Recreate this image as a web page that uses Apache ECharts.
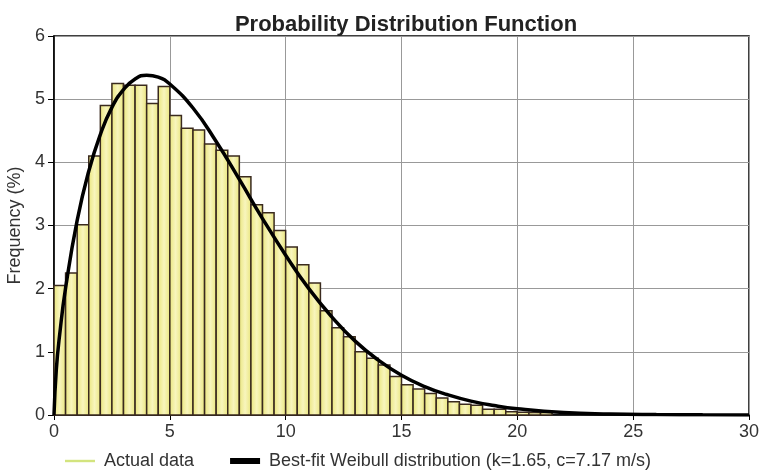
<!DOCTYPE html>
<html>
<head>
<meta charset="utf-8">
<script src="https://cdn.jsdelivr.net/npm/echarts@6/dist/echarts.min.js"></script>
<style>
  html, body { margin: 0; padding: 0; background: #fff; }
  #chart { width: 759px; height: 472px; }
</style>
</head>
<body>
<div id="chart"></div>
<script>
// histogram: bins of 0.5 m/s starting at 0
const binWidth = 0.5;
const freq = [
  2.05, 2.25, 3.01, 4.10, 4.90, 5.25, 5.22, 5.22, 4.93, 5.20,
  4.74, 4.54, 4.51, 4.29, 4.19, 4.10, 3.77, 3.33, 3.20, 2.92,
  2.66, 2.38, 2.09, 1.65, 1.38, 1.24, 1.00, 0.90, 0.79, 0.61,
  0.48, 0.41, 0.34, 0.27, 0.21, 0.17, 0.155, 0.09, 0.09, 0.05,
  0.045, 0.04, 0.04
];

// best-fit curve
const fitX = [0, 0.1, 0.25, 0.5, 1, 1.5, 2, 2.5, 3, 3.5, 4, 4.5, 5, 6, 7, 8, 9, 10,
  11, 12, 13, 14, 15, 16, 17, 18, 19, 20, 22, 24, 26, 28, 30];
const fitY = [0, 0.72, 1.29, 2.01, 3.08, 3.86, 4.44, 4.87, 5.15, 5.32, 5.38, 5.35, 5.24,
  4.86, 4.33, 3.73, 3.11, 2.53, 2.00, 1.55, 1.17, 0.87, 0.63, 0.45, 0.32, 0.22, 0.15,
  0.10, 0.04, 0.016, 0.006, 0.002, 0.001];

const xTicks = [0, 30, 5];
const yTicks = [0, 6, 1];

const barData = freq.map((v, i) => [i * binWidth, (i + 1) * binWidth, v]);
const lineData = fitX.map((x, i) => [x, fitY[i]]);

const chart = echarts.init(document.getElementById('chart'));

const font = 'Liberation Sans, Arial, sans-serif';
const barFill = new echarts.graphic.LinearGradient(0, 0, 1, 0, [
  { offset: 0, color: '#e9e57a' },
  { offset: 0.5, color: '#f8f5bd' },
  { offset: 1, color: '#e9e57a' }
]);

const option = {
  backgroundColor: '#fff',
  animation: false,
  textStyle: { fontFamily: font },
  title: {
    text: 'Probability Distribution Function',
    left: 401,
    textAlign: 'center',
    top: 9,
    textStyle: { fontSize: 22, fontWeight: 'bold', color: '#222', fontFamily: font }
  },
  legend: {
    left: 60,
    top: 447,
    itemWidth: 30,
    itemHeight: 14,
    itemGap: 36,
    textStyle: { fontSize: 18, color: '#333', padding: [0, 0, 0, 4] },
    data: [
      { name: 'Actual data', icon: 'path://M0,0H30V2.4H0Z', itemStyle: { color: '#d3e47e' } },
      { name: 'Best-fit Weibull distribution (k=1.65, c=7.17 m/s)', icon: 'path://M0,0H30V6H0Z', itemStyle: { color: '#000' } }
    ]
  },
  grid: {
    left: 54, right: 10, top: 36, bottom: 57,
    outerBoundsMode: 'none',
    show: true, borderColor: '#000', borderWidth: 1.5, backgroundColor: '#fff'
  },
  xAxis: {
    type: 'value',
    min: xTicks[0], max: xTicks[1], interval: xTicks[2],
    axisLine: { show: true, lineStyle: { color: '#000', width: 1.5 } },
    axisTick: { show: true, length: 5, lineStyle: { color: '#000' } },
    axisLabel: { fontSize: 18, color: '#333', margin: 8 },
    splitLine: { show: true, lineStyle: { color: '#999', width: 1 } }
  },
  yAxis: {
    type: 'value',
    min: yTicks[0], max: yTicks[1], interval: yTicks[2],
    name: 'Frequency (%)',
    nameLocation: 'middle',
    nameGap: 24,
    nameTextStyle: { fontSize: 18, color: '#333' },
    axisLine: { show: true, lineStyle: { color: '#000', width: 1.5 } },
    axisTick: { show: true, length: 6, lineStyle: { color: '#000' } },
    axisLabel: { fontSize: 18, color: '#333', margin: 9 },
    splitLine: { show: true, lineStyle: { color: '#999', width: 1 } }
  },
  series: [
    {
      name: 'Actual data',
      type: 'custom',
      data: barData,
      encode: { x: [0, 1], y: 2 },
      z: 2,
      renderItem: function (params, api) {
        const top = api.coord([api.value(0), api.value(2)]);
        const base = api.coord([api.value(1), 0]);
        return {
          type: 'rect',
          shape: { x: top[0], y: top[1], width: base[0] - top[0], height: base[1] - top[1] },
          style: { fill: barFill, stroke: '#3a2a1e', lineWidth: 1.5 }
        };
      }
    },
    {
      name: 'Best-fit Weibull distribution (k=1.65, c=7.17 m/s)',
      type: 'line',
      data: lineData,
      smooth: true,
      showSymbol: false,
      z: 3,
      lineStyle: { color: '#000', width: 3.5 },
      itemStyle: { color: '#000' }
    }
  ]
};

chart.setOption(option);
</script>
</body>
</html>
